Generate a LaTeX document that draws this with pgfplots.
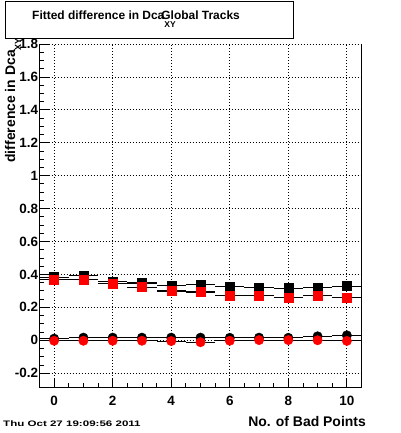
\documentclass[border=0pt]{standalone}
\usepackage{fontspec}
\setmainfont{Liberation Sans}
\usepackage{pgfplots}
\pgfplotsset{compat=1.18}
\begin{document}
\begin{tikzpicture}[x=1bp,y=1bp]
\useasboundingbox (0,0) rectangle (400,433);
\fill[white] (0,0) rectangle (400,433);
\begin{axis}[
  at={(39.5bp,45bp)}, anchor=south west,
  scale only axis, width=322bp, height=344bp,
  xmin=-0.5, xmax=10.5, ymin=-0.29, ymax=1.8,
  xtick={0,2,4,6,8,10}, ytick={-0.2,0,0.2,0.4,0.6,0.8,1,1.2,1.4,1.6,1.8},
  minor x tick num=3, minor y tick num=3,
  tick pos=left, tick align=inside,
  major tick length=9bp, minor tick length=4.5bp,
  tick style={black, line width=0.8bp},
  grid=major,
  major grid style={black, line width=0.8bp, dash pattern=on 1bp off 2bp},
  axis line style={draw=none},
  ticklabel style={font=\fontsize{13.5}{14}\selectfont\bfseries},
  /pgf/number format/assume math mode=true,
  yticklabel style={xshift=2bp},
  xticklabel style={yshift=-5bp},
  clip=false,
]
\addplot[only marks, mark=square*, mark size=4.5bp, black,
  error bars/.cd, x dir=both, x fixed=0.5, error mark=none,
  error bar style={black, line width=1.1bp}]
  coordinates {(0,0.384) (1,0.395) (2,0.358) (3,0.348) (4,0.334) (5,0.340) (6,0.328) (7,0.322) (8,0.317) (9,0.322) (10,0.329)};
\addplot[only marks, mark=square*, mark size=4.5bp, red, mark options={fill=red, draw=red},
  error bars/.cd, x dir=both, x fixed=0.5, error mark=none,
  error bar style={black, line width=1.1bp}]
  coordinates {(0,0.367) (1,0.369) (2,0.343) (3,0.323) (4,0.299) (5,0.293) (6,0.272) (7,0.272) (8,0.261) (9,0.273) (10,0.260)};
\addplot[only marks, mark=*, mark size=4.7bp, black,
  error bars/.cd, x dir=both, x fixed=0.5, error mark=none,
  error bar style={black, line width=1.1bp}]
  coordinates {(0,0.010) (1,0.016) (2,0.016) (3,0.016) (4,0.016) (5,0.016) (6,0.015) (7,0.016) (8,0.015) (9,0.024) (10,0.030)};
\addplot[only marks, mark=*, mark size=4.7bp, red, mark options={fill=red, draw=red},
  error bars/.cd, x dir=both, x fixed=0.5, error mark=none,
  error bar style={black, line width=1.1bp}]
  coordinates {(0,-0.003) (1,-0.003) (2,-0.003) (3,-0.003) (4,-0.005) (5,-0.012) (6,-0.003) (7,0.001) (8,0.001) (9,0.000) (10,-0.004)};
\draw[black, line width=1bp] (rel axis cs:0,1) -- (rel axis cs:0,0) -- (rel axis cs:1,0) -- (rel axis cs:1,1);
\end{axis}
% title box
\draw[black, line width=1bp, fill=white] (5,394) rectangle (293,431);
\node[anchor=base west, inner sep=0, font=\fontsize{12}{12}\selectfont\bfseries] at (32,413)
  {Fitted difference in Dca\rlap{\raisebox{-8bp}{\fontsize{8.5}{8.5}\selectfont XY}}\kern-3bp Global Tracks};
% axis labels
\node[anchor=base east, inner sep=0, font=\fontsize{14}{14}\selectfont\bfseries] at (366,6) {No. of Bad Points};
\node[rotate=90, anchor=base east, inner sep=0, font=\fontsize{14}{14}\selectfont\bfseries] at (15,383)
  {difference in Dca\rlap{\raisebox{-6bp}{\fontsize{9}{9}\selectfont XY}}};
% date stamp
\node[anchor=base west, inner sep=0] at (3,6) {\scalebox{1.45}[1]{\fontsize{8}{8}\selectfont\bfseries Thu Oct 27 19:09:56 2011}};
\end{tikzpicture}
\end{document}
